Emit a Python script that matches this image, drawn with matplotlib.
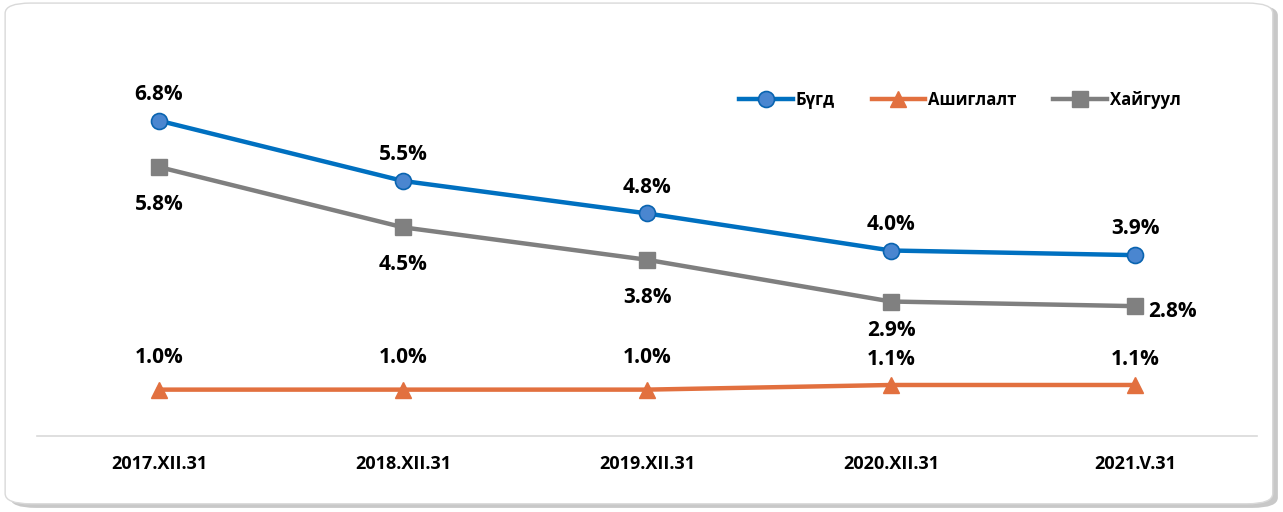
import matplotlib.pyplot as plt
from matplotlib.patches import FancyBboxPatch

categories = ["2017.XII.31", "2018.XII.31", "2019.XII.31", "2020.XII.31", "2021.V.31"]
total = [6.8, 5.5, 4.8, 4.0, 3.9]
mining = [1.0, 1.0, 1.0, 1.1, 1.1]
exploration = [5.8, 4.5, 3.8, 2.9, 2.8]

plt.rcParams["font.family"] = ["Open Sans", "DejaVu Sans"]

fig = plt.figure(figsize=(12.83, 5.12), dpi=100)

# rounded frame with a soft shadow
shadow = FancyBboxPatch((0.008, 0.008), 0.988, 0.982, boxstyle="round,pad=0,rounding_size=0.02",
                        transform=fig.transFigure, facecolor="#c8c8c8", edgecolor="none", zorder=-3)
frame = FancyBboxPatch((0.004, 0.016), 0.988, 0.978, boxstyle="round,pad=0,rounding_size=0.02",
                       transform=fig.transFigure, facecolor="white", edgecolor="#d9d9d9", lw=1, zorder=-2)
fig.patches.extend([shadow, frame])

ax = fig.add_axes([37 / 1283, 76 / 512, 1220 / 1283, 371 / 512])
ax.set_facecolor("none")
x = list(range(len(categories)))

ax.plot(x, total, color="#0070C0", lw=3.2, marker="o", ms=11.5, mfc="#4a86d0", mec="#0a64b0", mew=1.2,
        label="Бүгд", zorder=4)
ax.plot(x, mining, color="#E2703F", lw=3.2, marker="^", ms=11.5, mfc="#E2703F", mec="#E2703F",
        label="Ашиглалт", zorder=4)
ax.plot(x, exploration, color="#7F7F7F", lw=3.2, marker="s", ms=11, mfc="#808080", mec="#808080",
        label="Хайгуул", zorder=4)

ax.set_xlim(-0.5, len(categories) - 0.5)
ax.set_ylim(0, 8)

label_kw = dict(fontsize=15, fontweight="bold", ha="center", color="black")
for i, v in enumerate(total):
    ax.annotate(f"{v:.1f}%", (i, v), xytext=(0, 19), textcoords="offset points", va="center", **label_kw)
for i, v in enumerate(mining):
    dy = 23 if v < 1.05 else 18
    ax.annotate(f"{v:.1f}%", (i, v), xytext=(0, dy), textcoords="offset points", va="center", **label_kw)
for i, v in enumerate(exploration):
    if i == len(exploration) - 1:
        ax.annotate(f"{v:.1f}%", (i, v), xytext=(27, -4), textcoords="offset points", va="center", **label_kw)
    elif i == 3:
        ax.annotate(f"{v:.1f}%", (i, v), xytext=(0, -21), textcoords="offset points", va="center", **label_kw)
    else:
        ax.annotate(f"{v:.1f}%", (i, v), xytext=(0, -27), textcoords="offset points", va="center", **label_kw)

ax.set_xticks(x)
ax.set_xticklabels(categories, fontsize=13, fontweight="bold")
ax.tick_params(axis="x", length=0, pad=14)
ax.set_yticks([])
for side in ["top", "right", "left"]:
    ax.spines[side].set_visible(False)
ax.spines["bottom"].set_color("#d9d9d9")
ax.spines["bottom"].set_linewidth(1.2)

leg = ax.legend(loc="upper right", bbox_to_anchor=(0.95, 0.97), ncol=3, frameon=False,
                prop={"size": 12, "weight": "bold"}, handlelength=3.2, columnspacing=2.2, handletextpad=0.2)

fig.savefig("out.png", dpi=100)
